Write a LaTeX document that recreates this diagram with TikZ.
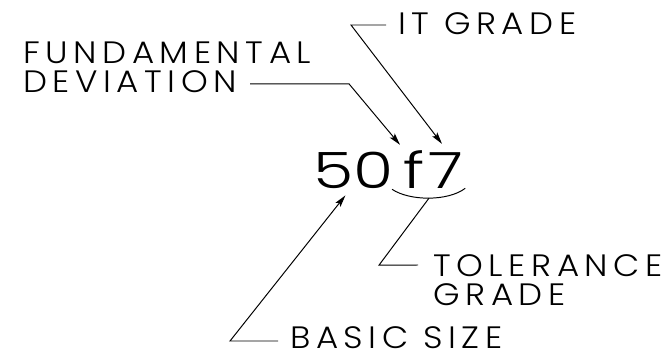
\documentclass[tikz,border=0pt]{standalone}
\usepackage{fontspec}
\IfFontExistsTF{Poppins Light}{\def\drawfont{Poppins Light}}{\def\drawfont{Poppins}}
\setmainfont{\drawfont}
\newfontfamily\calloutfont[FakeStretch=1.1,LetterSpace=18]{\drawfont}
\newfontfamily\symbolfont[FakeStretch=1.3]{\drawfont}
\usepackage{tikz}
\usetikzlibrary{arrows.meta,calc}

\begin{document}
\begin{tikzpicture}[
  x=0.025cm,y=-0.025cm,
  callout/.style={inner sep=0pt,anchor=west,font=\calloutfont\fontsize{22}{20.8}\selectfont},
  symbol/.style={inner sep=0pt,anchor=base west,font=\symbolfont\fontsize{35.6}{40}\selectfont},
  leader/.style={line width=0.7pt,line join=miter},
  arr/.style={leader,-{Stealth[length=3mm,width=1.6mm,inset=0.6mm]}}
]
\useasboundingbox (0,0) rectangle (672,355);
\node[symbol] (size) at (313,188) {50};
\node[symbol] (dev) at (403,188) {f};
\node[symbol] (grade) at (428,188) {7};
\node[callout,align=left] (fd) at (23,67) {FUNDAMENTAL\\DEVIATION};
\node[callout] (itg) at (398,24) {IT GRADE};
\node[callout,align=left] (tol) at (433,280) {TOLERANCE\\GRADE};
\node[callout] (bs) at (290,338) {BASIC SIZE};
\draw[leader] ([shift={(-11,1)}]dev.south west) .. controls ++(18,12) and ++(-17,13) .. ([shift={(2,0)}]grade.south east)
  coordinate[pos=0.5] (tg);
\draw[arr] ([shift={(227,-9)}]fd.south west) -- ++(99,0) -- ([shift={(-3,-5)}]dev.north west);
\draw[arr] ([shift={(-12,1)}]itg.west) -- ++(-35,0) -- ([shift={(14,-8)}]grade.north west);
\draw[leader] (tg) -- ++(-50,67) -- ([shift={(-15,-15)}]tol.west);
\draw[arr] ([shift={(-12,3)}]bs.west) -- ++(-48,0) -- ([shift={(-8,7)}]size.south);
\end{tikzpicture}
\end{document}
